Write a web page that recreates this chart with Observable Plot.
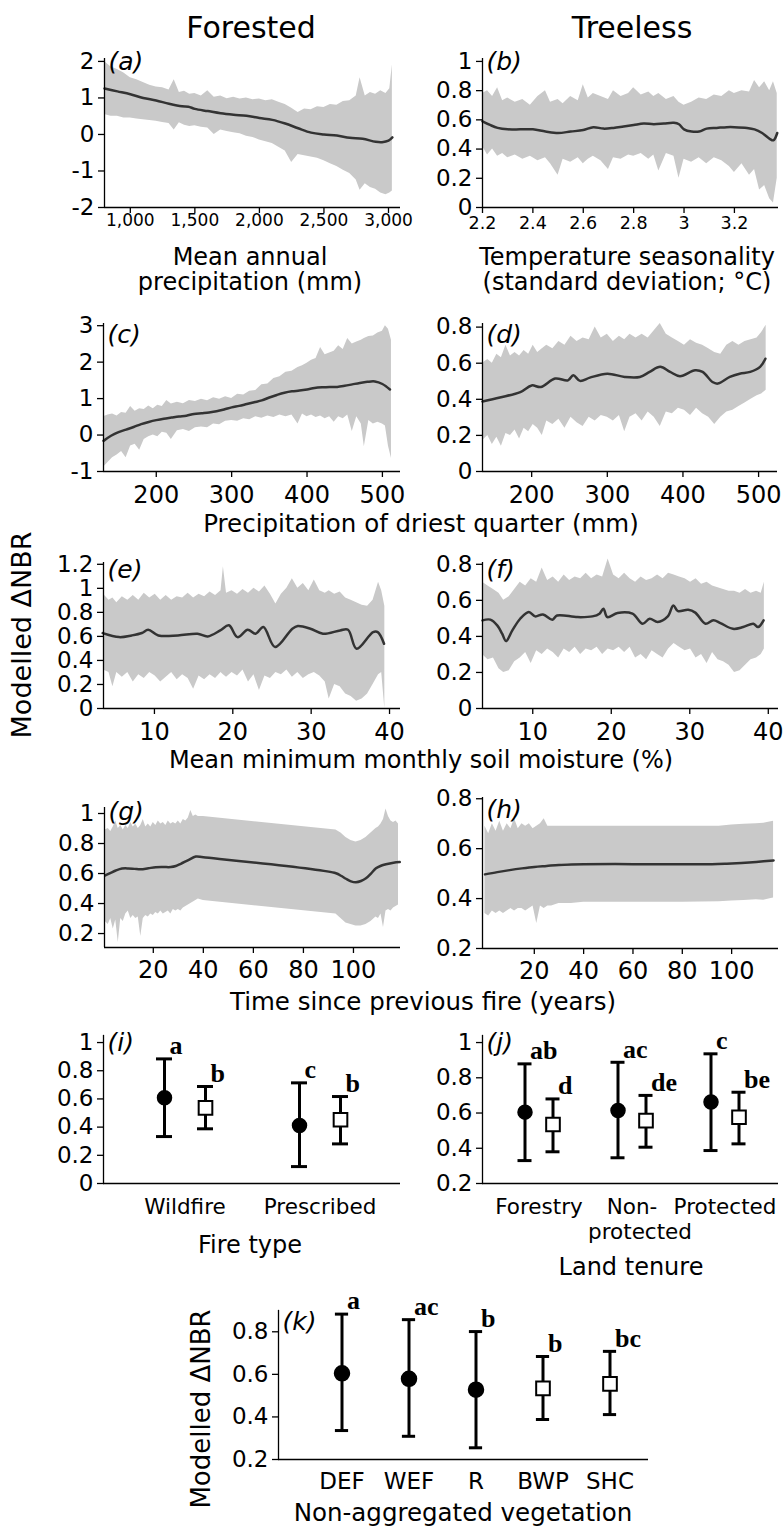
<!DOCTYPE html>
<html><head><meta charset="utf-8">
<script src="https://cdn.jsdelivr.net/npm/d3@7"></script>
<script src="https://cdn.jsdelivr.net/npm/@observablehq/plot@0.6"></script>
<style>
body{margin:0;background:#fff;}
#fig{position:relative;width:783px;height:1527px;overflow:hidden;font-family:"DejaVu Sans",Verdana,sans-serif;color:#000;background:#fff;}
.lbl{position:absolute;transform:translate(-50%,-50%);white-space:pre;text-align:center;line-height:1.05;}
</style></head><body><div id="fig"></div><script>
// ---------- DATA ----------
// (a) Forested: mean annual precipitation [x, lower, upper]
const bandA = [[800,0.55,2.0],[850,0.5,1.85],[900,0.5,1.78],[950,0.45,1.68],[1000,0.45,1.55],[1050,0.42,1.5],[1100,0.4,1.42],[1150,0.38,1.35],[1200,0.36,1.3],[1250,0.33,1.28],[1300,0.3,1.22],[1340,0.12,1.5],[1380,0.32,1.15],[1420,0.25,1.18],[1460,0.22,1.1],[1500,0.24,1.12],[1550,0.2,1.05],[1600,0.18,1.2],[1650,0.0,1.02],[1700,0.12,1.05],[1750,0.08,0.98],[1800,0.05,1.02],[1850,0.02,0.97],[1900,-0.05,1.0],[1950,-0.08,0.95],[2000,-0.15,0.97],[2050,-0.2,0.92],[2100,-0.25,0.95],[2150,-0.35,0.88],[2200,-0.45,0.82],[2250,-0.77,0.72],[2300,-0.55,0.6],[2350,-0.58,0.7],[2400,-0.62,0.68],[2450,-0.65,0.76],[2500,-0.72,0.74],[2550,-0.8,0.82],[2600,-0.88,0.8],[2650,-0.98,0.9],[2700,-1.07,0.92],[2750,-1.25,1.05],[2780,-1.53,1.55],[2820,-1.35,1.05],[2860,-1.45,1.15],[2900,-1.5,1.1],[2940,-1.6,1.2],[2980,-1.65,1.12],[3010,-1.6,1.25],[3030,-1.55,1.9]];
const lineA = [[800,1.26],[900,1.18],[1000,1.1],[1100,1.0],[1200,0.93],[1300,0.84],[1400,0.77],[1450,0.76],[1500,0.7],[1600,0.64],[1700,0.58],[1800,0.54],[1900,0.51],[2000,0.45],[2100,0.4],[2200,0.3],[2300,0.17],[2400,0.05],[2500,0.0],[2600,-0.03],[2700,-0.09],[2800,-0.12],[2900,-0.2],[2950,-0.21],[3000,-0.17],[3030,-0.08]];
// (b) Treeless: temperature seasonality
const bandB = [[2.2,0.42,0.78],[2.22,0.36,0.8],[2.24,0.4,0.76],[2.26,0.35,0.82],[2.28,0.37,0.73],[2.3,0.34,0.75],[2.33,0.36,0.72],[2.36,0.33,0.74],[2.39,0.35,0.7],[2.42,0.32,0.76],[2.45,0.34,0.8],[2.47,0.3,0.72],[2.5,0.22,0.74],[2.52,0.33,0.71],[2.55,0.31,0.76],[2.58,0.34,0.73],[2.6,0.3,0.84],[2.62,0.33,0.75],[2.64,0.35,0.78],[2.67,0.32,0.76],[2.7,0.26,0.74],[2.72,0.34,0.8],[2.75,0.33,0.76],[2.78,0.36,0.78],[2.8,0.35,0.82],[2.83,0.37,0.77],[2.86,0.33,0.79],[2.88,0.36,0.76],[2.9,0.25,0.78],[2.93,0.37,0.74],[2.96,0.35,0.76],[2.98,0.2,0.72],[3.0,0.33,0.7],[3.03,0.31,0.72],[3.06,0.34,0.75],[3.09,0.3,0.74],[3.12,0.34,0.77],[3.15,0.32,0.76],[3.18,0.28,0.8],[3.2,0.24,0.78],[3.23,0.3,0.8],[3.26,0.22,0.79],[3.28,0.26,0.87],[3.3,0.12,0.82],[3.32,0.15,0.86],[3.34,0.06,0.8],[3.355,0.03,0.86],[3.37,0.2,0.78]];
const lineB = [[2.2,0.59],[2.23,0.565],[2.26,0.545],[2.3,0.535],[2.35,0.535],[2.4,0.535],[2.45,0.52],[2.5,0.51],[2.55,0.52],[2.6,0.53],[2.64,0.55],[2.68,0.54],[2.72,0.545],[2.76,0.555],[2.8,0.565],[2.84,0.575],[2.88,0.57],[2.92,0.575],[2.96,0.58],[2.98,0.57],[3.0,0.535],[3.03,0.52],[3.06,0.52],[3.09,0.54],[3.13,0.545],[3.17,0.55],[3.2,0.55],[3.25,0.545],[3.28,0.535],[3.31,0.51],[3.34,0.47],[3.355,0.46],[3.37,0.51]];
// (c) Forested: precipitation of driest quarter
const bandC = [[130,-0.88,0.5],[136,-0.75,0.55],[142,-0.62,0.58],[148,-0.55,0.52],[154,-0.45,0.62],[160,-0.62,0.6],[166,-0.3,0.78],[172,-0.25,0.65],[178,-0.42,0.72],[184,-0.12,0.7],[190,-0.05,0.8],[196,0.0,0.72],[202,-0.05,0.82],[208,0.08,0.78],[214,0.05,0.95],[220,-0.12,0.85],[228,0.12,0.9],[236,0.15,0.86],[244,0.1,0.95],[252,0.2,0.92],[260,0.22,0.98],[268,0.2,0.94],[276,0.3,1.02],[284,0.28,0.98],[292,0.38,1.05],[300,0.4,1.0],[308,0.38,1.12],[316,0.45,1.1],[324,0.42,1.2],[332,0.5,1.22],[340,0.46,1.38],[348,0.52,1.4],[356,0.48,1.55],[364,0.55,1.6],[372,0.5,1.72],[380,0.55,1.75],[388,0.3,1.85],[394,0.58,1.9],[400,0.5,1.97],[406,0.55,2.05],[412,0.48,2.1],[418,0.52,2.4],[424,0.45,2.2],[430,0.5,2.25],[436,0.35,2.3],[442,0.5,2.45],[448,0.45,2.35],[454,0.55,2.65],[460,0.1,2.5],[466,0.5,2.55],[472,0.3,2.6],[476,-0.32,2.65],[482,0.4,2.7],[488,0.3,2.72],[494,0.35,2.8],[500,0.3,2.85],[504,0.25,3.0],[508,-0.3,2.9],[512,-0.64,2.6]];
const lineC = [[130,-0.16],[140,-0.02],[150,0.08],[160,0.15],[170,0.22],[180,0.3],[190,0.36],[200,0.41],[210,0.45],[220,0.48],[230,0.51],[240,0.53],[250,0.58],[260,0.6],[270,0.62],[280,0.65],[290,0.7],[300,0.76],[310,0.8],[320,0.85],[330,0.9],[340,0.95],[350,1.03],[360,1.1],[370,1.16],[380,1.2],[390,1.22],[400,1.25],[410,1.29],[420,1.31],[430,1.32],[440,1.32],[450,1.35],[460,1.39],[470,1.43],[480,1.46],[490,1.47],[500,1.4],[510,1.25]];
// (d) Treeless: precipitation of driest quarter
const bandD = [[135,0.17,0.6],[142,0.2,0.62],[148,0.15,0.6],[154,0.19,0.65],[160,0.14,0.63],[166,0.21,0.7],[172,0.2,0.64],[178,0.23,0.66],[184,0.18,0.64],[190,0.24,0.67],[196,0.22,0.65],[202,0.26,0.7],[208,0.24,0.66],[214,0.2,0.68],[220,0.28,0.7],[228,0.26,0.68],[236,0.29,0.72],[244,0.24,0.7],[252,0.3,0.75],[260,0.27,0.72],[268,0.25,0.74],[276,0.3,0.73],[284,0.28,0.8],[292,0.31,0.74],[300,0.3,0.76],[308,0.28,0.72],[316,0.31,0.75],[323,0.22,0.73],[330,0.3,0.76],[338,0.32,0.74],[346,0.28,0.76],[354,0.33,0.74],[362,0.3,0.78],[370,0.25,0.82],[378,0.33,0.76],[386,0.32,0.74],[394,0.35,0.72],[402,0.34,0.7],[410,0.31,0.73],[418,0.35,0.71],[426,0.32,0.7],[434,0.3,0.68],[442,0.26,0.66],[450,0.3,0.65],[458,0.33,0.7],[466,0.34,0.72],[474,0.36,0.7],[482,0.38,0.72],[490,0.4,0.73],[498,0.42,0.74],[504,0.43,0.77],[510,0.45,0.81]];
const lineD = [[135,0.388],[158,0.41],[185,0.44],[200,0.477],[212,0.468],[231,0.515],[248,0.505],[255,0.533],[264,0.502],[277,0.52],[300,0.542],[323,0.524],[343,0.524],[356,0.552],[370,0.58],[383,0.552],[396,0.528],[416,0.561],[426,0.552],[439,0.496],[446,0.487],[462,0.524],[475,0.542],[489,0.552],[502,0.58],[509,0.625]];
// (e) Forested: soil moisture
const bandE = [[3.5,0.32,0.95],[4.2,0.3,0.9],[4.7,0.18,0.92],[5.2,0.3,0.88],[5.9,0.26,0.93],[6.6,0.3,0.9],[7.3,0.22,0.94],[8.0,0.28,0.9],[8.7,0.25,0.96],[9.4,0.3,0.92],[10.1,0.27,0.95],[10.8,0.22,0.9],[11.5,0.26,0.94],[12.2,0.3,0.9],[12.9,0.24,0.93],[13.6,0.28,0.92],[14.3,0.25,0.96],[15.0,0.16,0.92],[15.7,0.27,0.95],[16.4,0.24,0.93],[17.1,0.28,0.97],[17.8,0.25,0.94],[18.5,0.3,0.98],[18.8,0.28,1.18],[19.2,0.26,0.96],[19.9,0.3,0.98],[20.6,0.27,0.95],[21.3,0.32,0.99],[22.0,0.22,0.96],[22.7,0.28,1.0],[23.4,0.15,0.97],[24.1,0.27,1.02],[24.8,0.25,0.95],[25.5,0.3,0.87],[26.2,0.28,0.95],[26.9,0.32,1.0],[27.6,0.26,1.08],[28.3,0.3,1.0],[29.0,0.25,1.04],[29.7,0.28,0.98],[30.4,0.3,1.07],[31.1,0.27,0.98],[31.8,0.22,0.96],[32.3,0.08,0.98],[33.0,0.2,0.95],[33.7,0.18,0.97],[34.4,0.12,0.92],[35.1,0.1,0.9],[35.8,0.06,0.88],[36.5,0.08,0.86],[37.2,0.12,0.85],[37.9,0.2,0.9],[38.6,0.28,1.05],[39.0,0.3,0.98],[39.4,0.0,0.85]];
const lineE = [[3.4,0.627],[5.5,0.594],[7.1,0.608],[8.4,0.628],[9.2,0.655],[10.5,0.608],[13,0.608],[15.5,0.622],[16.8,0.6],[18.4,0.65],[19.5,0.692],[20.6,0.594],[21.9,0.655],[22.9,0.622],[23.9,0.678],[25.4,0.511],[27.6,0.664],[28.3,0.686],[29.9,0.664],[31.5,0.622],[33.7,0.65],[34.7,0.655],[35.8,0.497],[37.9,0.636],[38.5,0.636],[39.3,0.539]];
// (f) Treeless: soil moisture
const bandF = [[3.6,0.3,0.7],[4.3,0.27,0.68],[5.0,0.28,0.66],[5.7,0.22,0.64],[6.3,0.2,0.6],[7.0,0.21,0.62],[7.7,0.26,0.66],[8.4,0.28,0.7],[9.1,0.31,0.68],[9.8,0.25,0.72],[10.5,0.32,0.7],[11.2,0.3,0.78],[11.9,0.33,0.71],[12.6,0.31,0.73],[13.3,0.28,0.7],[14.0,0.33,0.74],[14.7,0.31,0.71],[15.4,0.34,0.73],[16.1,0.3,0.72],[16.8,0.33,0.75],[17.5,0.32,0.72],[18.2,0.34,0.74],[18.9,0.3,0.73],[19.6,0.33,0.83],[20.3,0.32,0.74],[21.0,0.34,0.72],[21.7,0.31,0.75],[22.4,0.34,0.72],[23.1,0.28,0.7],[23.8,0.3,0.73],[24.5,0.27,0.71],[25.2,0.32,0.72],[25.9,0.3,0.74],[26.6,0.28,0.72],[27.3,0.33,0.75],[28.0,0.36,0.74],[28.7,0.34,0.73],[29.4,0.32,0.72],[30.1,0.33,0.7],[30.8,0.28,0.72],[31.5,0.3,0.69],[32.2,0.25,0.7],[32.9,0.31,0.68],[33.6,0.27,0.67],[34.3,0.26,0.66],[35.0,0.24,0.65],[35.7,0.2,0.65],[36.4,0.21,0.64],[37.1,0.24,0.66],[37.8,0.27,0.64],[38.5,0.28,0.65],[39.1,0.3,0.64],[39.5,0.33,0.7]];
const lineF = [[3.6,0.489],[4.6,0.493],[5.5,0.46],[6.1,0.415],[6.6,0.374],[7.4,0.433],[8.4,0.498],[9.5,0.535],[10.3,0.511],[11.3,0.522],[12.5,0.493],[13.1,0.516],[15.7,0.507],[17.6,0.511],[18.5,0.526],[19,0.554],[19.5,0.507],[20.8,0.53],[22.7,0.526],[24,0.47],[24.9,0.498],[25.9,0.48],[27.2,0.511],[27.9,0.572],[28.5,0.54],[29.8,0.548],[30.7,0.532],[32,0.47],[33,0.489],[33.9,0.474],[35.5,0.442],[36.8,0.452],[38.1,0.47],[38.7,0.452],[39.4,0.489]];
// (g) Forested: time since previous fire
const bandG = [[0.8,0.28,0.89],[2,0.26,0.9],[3,0.3,0.88],[4,0.23,0.91],[5,0.29,0.95],[6,0.14,0.9],[7,0.3,0.92],[8,0.28,0.89],[9,0.33,0.92],[10,0.35,0.9],[11,0.3,0.94],[12,0.32,0.91],[13,0.3,0.93],[14,0.31,0.9],[15,0.18,0.92],[16,0.3,0.96],[17,0.32,0.91],[18,0.31,0.93],[19,0.33,0.91],[20,0.32,0.94],[21,0.34,0.92],[22,0.33,0.95],[23,0.35,0.93],[24,0.33,0.94],[25,0.34,0.92],[26,0.35,0.95],[27,0.33,0.93],[28,0.36,0.94],[29,0.35,0.93],[30,0.36,0.95],[31,0.35,0.93],[32,0.37,0.96],[33,0.38,0.95],[34,0.39,0.97],[35,0.4,1.02],[36,0.41,0.98],[37,0.42,0.99],[38,0.43,0.98],[40,0.42,0.98],[93,0.33,0.89],[95,0.3,0.87],[97,0.27,0.84],[99,0.26,0.82],[101,0.25,0.81],[103,0.25,0.82],[105,0.26,0.84],[107,0.28,0.87],[109,0.31,0.9],[110,0.3,0.91],[111,0.33,0.93],[112,0.24,0.96],[113,0.35,1.03],[114,0.36,0.98],[115,0.35,0.95],[116,0.37,0.94],[117,0.38,0.95],[118,0.39,0.93]];
const lineG = [[0.8,0.587],[3,0.605],[5,0.62],[7.5,0.633],[10,0.634],[12.5,0.631],[15,0.628],[18,0.635],[21,0.642],[24,0.643],[27,0.643],[29,0.65],[31,0.665],[34,0.69],[37,0.713],[40,0.708],[93,0.602],[95,0.585],[97,0.565],[99,0.548],[101,0.542],[103,0.55],[105,0.568],[107,0.6],[109,0.635],[111,0.652],[113,0.662],[116,0.672],[118.5,0.676]];
// (h) Treeless: time since previous fire
const bandH = [[0,0.34,0.69],[1.5,0.33,0.66],[3,0.35,0.7],[4.5,0.34,0.67],[6,0.35,0.71],[7.5,0.34,0.67],[9,0.35,0.7],[10.5,0.36,0.68],[12,0.35,0.72],[13.5,0.36,0.68],[15,0.36,0.7],[16.5,0.35,0.69],[18,0.36,0.7],[19.5,0.37,0.68],[21,0.3,0.69],[22.5,0.37,0.7],[24,0.36,0.72],[25.5,0.37,0.69],[27,0.37,0.69],[30,0.38,0.69],[35,0.38,0.69],[40,0.385,0.69],[60,0.385,0.69],[80,0.385,0.69],[95,0.387,0.69],[100,0.39,0.695],[105,0.392,0.698],[110,0.395,0.7],[113,0.393,0.702],[116,0.4,0.708],[117,0.402,0.71]];
const lineH = [[0,0.497],[5,0.506],[10,0.514],[15,0.521],[20,0.527],[25,0.531],[30,0.535],[35,0.537],[40,0.538],[60,0.538],[80,0.538],[92,0.538],[98,0.54],[104,0.543],[110,0.547],[117,0.553]];

// (i) Fire type
const fireTypes = ["Wildfire", "Prescribed"];
const fireForMean = [0.608, 0.411], fireForLo = [0.333, 0.12], fireForHi = [0.884, 0.714], fireForSig = ["a", "c"];
const fireTreeMean = [0.537, 0.452], fireTreeLo = [0.388, 0.281], fireTreeHi = [0.688, 0.617], fireTreeSig = ["b", "b"];
// (j) Land tenure
const tenures = ["Forestry", "Non-\nprotected", "Protected"];
const tenForMean = [0.605, 0.614, 0.662], tenForLo = [0.33, 0.346, 0.387], tenForHi = [0.879, 0.888, 0.936], tenForSig = ["ab", "ac", "c"];
const tenTreeMean = [0.535, 0.557, 0.576], tenTreeLo = [0.38, 0.406, 0.425], tenTreeHi = [0.68, 0.7, 0.718], tenTreeSig = ["d", "de", "be"];
// (k) Non-aggregated vegetation
const vegTypes = ["DEF", "WEF", "R", "BWP", "SHC"];
const vegGroup = ["Forested", "Forested", "Forested", "Treeless", "Treeless"];
const vegMean = [0.605, 0.579, 0.528, 0.534, 0.555], vegLo = [0.336, 0.309, 0.255, 0.388, 0.411], vegHi = [0.883, 0.857, 0.801, 0.684, 0.708], vegSig = ["a", "ac", "b", "b", "bc"];

// tick values
const ticksXA = [1000, 1500, 2000, 2500, 3000], ticksYA = [-2, -1, 0, 1, 2];
const ticksXB = [2.2, 2.4, 2.6, 2.8, 3, 3.2], ticksYB = [0, 0.2, 0.4, 0.6, 0.8, 1];
const ticksXCD = [200, 300, 400, 500], ticksYC = [-1, 0, 1, 2, 3], ticksYD = [0, 0.2, 0.4, 0.6, 0.8];
const ticksXEF = [10, 20, 30, 40], ticksYE = [0, 0.2, 0.4, 0.6, 0.8, 1, 1.2], ticksYF = [0, 0.2, 0.4, 0.6, 0.8];
const ticksXGH = [20, 40, 60, 80, 100], ticksYG = [0.2, 0.4, 0.6, 0.8, 1], ticksYH = [0.2, 0.4, 0.6, 0.8];
const ticksYI = [0, 0.2, 0.4, 0.6, 0.8, 1], ticksYJ = [0.2, 0.4, 0.6, 0.8, 1], ticksYK = [0.2, 0.4, 0.6, 0.8];

// ---------- RENDERING ----------
const fig = document.getElementById("fig");
const BAND = "#c9c9c9", LINE = "#333333", FONT = '"DejaVu Sans", Verdana, sans-serif';
const YFONT = 23;
function place(el, left, top) { el.style.position = "absolute"; el.style.left = left + "px"; el.style.top = top + "px"; fig.appendChild(el); }
function label(text, cx, cy, size, rotate, lh) {
  const d = document.createElement("div"); d.className = "lbl"; d.textContent = text;
  d.style.left = cx + "px"; d.style.top = cy + "px"; d.style.fontSize = size + "px";
  if (lh) d.style.lineHeight = lh + "px";
  if (rotate) d.style.transform = "translate(-50%,-50%) rotate(-90deg)";
  fig.appendChild(d);
}
const numFmt = d => String(d);

function curvePanel({box, xDomain, yDomain, xTicks, yTicks, xFmt = numFmt, band, line, tag, tagDy, xFont, xPad}) {
  const [L, T, R, B] = box;
  const ml = 70, mr = Math.min(25, 783 - R), mt = 20, mb = 50;
  const p = Plot.plot({
    width: R - L + ml + mr, height: B - T + mt + mb,
    marginLeft: ml, marginRight: mr, marginTop: mt, marginBottom: mb,
    style: {fontFamily: FONT, background: "transparent", overflow: "visible", color: "#000"},
    x: {domain: xDomain}, y: {domain: yDomain},
    marks: [
      Plot.areaY(band, {x: d => d[0], y1: d => d[1], y2: d => d[2], fill: BAND}),
      Plot.line(line, {x: d => d[0], y: d => d[1], stroke: LINE, strokeWidth: 2.5, curve: "catmull-rom"}),
      Plot.ruleX([xDomain[0]], {stroke: "#000", strokeWidth: 1.3}),
      Plot.ruleY([yDomain[0]], {stroke: "#000", strokeWidth: 1.3}),
      Plot.axisY(yTicks, {tickSize: 6, tickPadding: 4, fontSize: YFONT, label: null, tickFormat: numFmt, strokeWidth: 1.3}),
      Plot.axisX(xTicks, {tickSize: 6, tickPadding: xPad, fontSize: xFont, label: null, tickFormat: xFmt, strokeWidth: 1.3}),
      Plot.text([tag], {text: d => d, frameAnchor: "top-left", dx: 4, dy: tagDy, fontSize: 25, fontStyle: "italic", lineAnchor: "top", textAnchor: "start"})
    ]
  });
  place(p, L - ml, T - mt);
}

function rowsOf(cats, mean, lo, hi, sig) { return cats.map((c, i) => ({cat: c, mean: mean[i], lo: lo[i], hi: hi[i], sig: sig[i]})); }

function catPanel({box, domain, bandRange, yDomain, yTicks, groups, inset, tag, tagDy, catFont, catPad, r, sq}) {
  const [L, T, R, B] = box;
  const ml = 70, mr = Math.min(25, 783 - R), mt = 20, mb = 75;
  const firstLine = d => String(d).split("\n")[0];
  const secondLines = domain.filter(d => String(d).includes("\n"));
  const marks = [
    Plot.frame({anchor: "left", stroke: "#000", strokeWidth: 1.3}),
    Plot.ruleY([yDomain[0]], {stroke: "#000", strokeWidth: 1.3}),
    Plot.axisY(yTicks, {tickSize: 6, tickPadding: 4, fontSize: YFONT, label: null, tickFormat: numFmt, strokeWidth: 1.3}),
    Plot.axisX({tickSize: 0, tickPadding: catPad, fontSize: catFont, label: null, tickFormat: firstLine}),
    // second line of wrapped category labels as its own text
    Plot.text(secondLines, {x: d => d, text: d => String(d).split("\n")[1], frameAnchor: "bottom", lineAnchor: "top", dx: 8, dy: catPad + catFont * 1.17, fontSize: catFont})
  ];
  for (const g of groups) {
    marks.push(Plot.ruleX(g.rows, {x: "cat", y1: "lo", y2: "hi", dx: g.dx, stroke: "#000", strokeWidth: 3}));
    marks.push(Plot.tickY(g.rows, {x: "cat", y: "hi", dx: g.dx, insetLeft: inset, insetRight: inset, stroke: "#000", strokeWidth: 3}));
    marks.push(Plot.tickY(g.rows, {x: "cat", y: "lo", dx: g.dx, insetLeft: inset, insetRight: inset, stroke: "#000", strokeWidth: 3}));
    marks.push(g.kind === "Forested"
      ? Plot.dot(g.rows, {x: "cat", y: "mean", dx: g.dx, r: r, fill: "#000", stroke: "#000"})
      : Plot.dot(g.rows, {x: "cat", y: "mean", dx: g.dx, symbol: "square", r: sq, fill: "#fff", stroke: "#000", strokeWidth: 2}));
    marks.push(Plot.text(g.rows, {x: "cat", y: "hi", text: "sig", dx: g.dx + 5, dy: -13, textAnchor: "start", fontFamily: '"Liberation Serif", "Times New Roman", serif', fontWeight: "bold", fontSize: 26}));
  }
  marks.push(Plot.text([tag], {text: d => d, frameAnchor: "top-left", dx: 4, dy: tagDy, fontSize: 25, fontStyle: "italic", lineAnchor: "top", textAnchor: "start"}));
  const p = Plot.plot({
    width: R - L + ml + mr, height: B - T + mt + mb,
    marginLeft: ml, marginRight: mr, marginTop: mt, marginBottom: mb,
    style: {fontFamily: FONT, background: "transparent", overflow: "visible", color: "#000"},
    x: {type: "band", domain, range: [ml + bandRange[0], ml + bandRange[1]], padding: 0},
    y: {domain: yDomain},
    marks
  });
  place(p, L - ml, T - mt);
}

// panels a-h
curvePanel({box: [104, 58, 400, 207], xDomain: [800, 3093], yDomain: [-2, 2.08], xTicks: ticksXA, yTicks: ticksYA, xFmt: d3.format(","), band: bandA, line: lineA, tag: "(a)", tagDy: -6, xFont: 17, xPad: 0});
curvePanel({box: [482, 58, 778, 207], xDomain: [2.2, 3.375], yDomain: [0, 1.02], xTicks: ticksXB, yTicks: ticksYB, band: bandB, line: lineB, tag: "(b)", tagDy: -6, xFont: 17.5, xPad: 3});
curvePanel({box: [103, 323, 400, 471], xDomain: [130, 524], yDomain: [-1, 3.06], xTicks: ticksXCD, yTicks: ticksYC, band: bandC, line: lineC, tag: "(c)", tagDy: 2, xFont: 24, xPad: 8});
curvePanel({box: [482, 323, 777, 471], xDomain: [135, 525], yDomain: [0, 0.82], xTicks: ticksXCD, yTicks: ticksYD, band: bandD, line: lineD, tag: "(d)", tagDy: 2, xFont: 24, xPad: 8});
curvePanel({box: [103, 562, 400, 708], xDomain: [3.5, 41.4], yDomain: [0, 1.215], xTicks: ticksXEF, yTicks: ticksYE, band: bandE, line: lineE, tag: "(e)", tagDy: -2, xFont: 24, xPad: 8});
curvePanel({box: [482, 562, 778, 708], xDomain: [3.6, 41.3], yDomain: [0, 0.81], xTicks: ticksXEF, yTicks: ticksYF, band: bandF, line: lineF, tag: "(f)", tagDy: -2, xFont: 24, xPad: 8});
curvePanel({box: [104, 807, 400, 947], xDomain: [0.5, 118.8], yDomain: [0.107, 1.04], xTicks: ticksXGH, yTicks: ticksYG, band: bandG, line: lineG, tag: "(g)", tagDy: -5, xFont: 24, xPad: 7});
curvePanel({box: [482, 797, 778, 948], xDomain: [-1, 119], yDomain: [0.2, 0.805], xTicks: ticksXGH, yTicks: ticksYH, band: bandH, line: lineH, tag: "(h)", tagDy: 3, xFont: 24, xPad: 7});

// panels i-k
catPanel({box: [103, 1035, 400, 1183], domain: fireTypes, bandRange: [14, 284], yDomain: [0, 1.05], yTicks: ticksYI,
  groups: [{kind: "Forested", dx: -20.5, rows: rowsOf(fireTypes, fireForMean, fireForLo, fireForHi, fireForSig)},
           {kind: "Treeless", dx: 20.5, rows: rowsOf(fireTypes, fireTreeMean, fireTreeLo, fireTreeHi, fireTreeSig)}],
  inset: 59.5, tag: "(i)", tagDy: -2, catFont: 21.5, catPad: 15, r: 7, sq: 7.7});
catPanel({box: [482, 1035, 778, 1183], domain: tenures, bandRange: [9.5, 288.5], yDomain: [0.2, 1.04], yTicks: ticksYJ,
  groups: [{kind: "Forested", dx: -14, rows: rowsOf(tenures, tenForMean, tenForLo, tenForHi, tenForSig)},
           {kind: "Treeless", dx: 14, rows: rowsOf(tenures, tenTreeMean, tenTreeLo, tenTreeHi, tenTreeSig)}],
  inset: 39.5, tag: "(j)", tagDy: -2, catFont: 21.5, catPad: 15, r: 7, sq: 7.7});
const vegRows = rowsOf(vegTypes, vegMean, vegLo, vegHi, vegSig).map((d, i) => ({...d, group: vegGroup[i]}));
catPanel({box: [278, 1310, 648, 1459], domain: vegTypes, bandRange: [28.1, 366.9], yDomain: [0.2, 0.9], yTicks: ticksYK,
  groups: [{kind: "Forested", dx: 0, rows: vegRows.filter(d => d.group === "Forested")},
           {kind: "Treeless", dx: 0, rows: vegRows.filter(d => d.group === "Treeless")}],
  inset: 26.9, tag: "(k)", tagDy: 2, catFont: 23, catPad: 13, r: 7.5, sq: 7.7});

// ---------- TEXT ----------
label("Forested", 251, 28, 30);
label("Treeless", 632, 28, 30);
label("Mean annual\nprecipitation (mm)", 250, 270, 24, false, 25);
label("Temperature seasonality\n(standard deviation; °C)", 627, 270, 24, false, 25);
label("Precipitation of driest quarter (mm)", 421, 524, 24.5);
label("Mean minimum monthly soil moisture (%)", 421, 761, 24);
label("Time since previous fire (years)", 423, 1002, 24.5);
label("Fire type", 250, 1246, 24);
label("Land tenure", 631, 1268, 24);
label("Non-aggregated vegetation", 463, 1513, 24.5);
label("Modelled ΔNBR", 22, 635, 27, true);
label("Modelled ΔNBR", 202, 1409, 26, true);
</script></body></html>
